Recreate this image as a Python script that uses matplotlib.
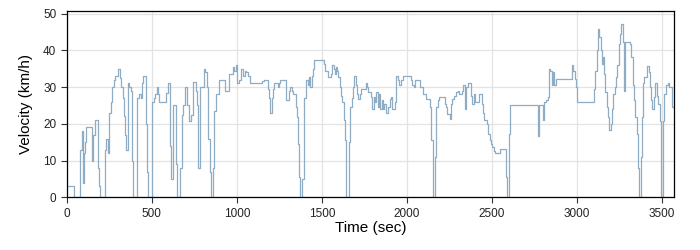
import matplotlib
matplotlib.use("Agg")
import matplotlib.pyplot as plt

# step points: (time in sec, velocity in km/h), held until the next point
time_s = [
    0, 40, 78, 88, 97, 103, 110, 116, 146, 155, 168, 184, 192, 198, 224, 232, 240,
    248, 258, 266, 276, 286, 300, 312, 320, 328, 334, 340, 346, 358, 368, 378, 386,
    392, 416, 426, 434, 442, 450, 466, 474, 480, 500, 512, 520, 528, 536, 544, 586,
    596, 606, 612, 622, 640, 646, 668, 676, 686, 694, 708, 716, 732, 740, 758, 764,
    770, 786, 806, 814, 822, 830, 840, 848, 860, 868, 876, 896, 928, 952, 976, 986,
    994, 1002, 1010, 1026, 1038, 1046, 1056, 1064, 1076, 1146, 1162, 1185, 1189,
    1197, 1205, 1213, 1221, 1240, 1248, 1256, 1287, 1291, 1307, 1315, 1322, 1330,
    1346, 1354, 1358, 1364, 1369, 1385, 1393, 1397, 1409, 1416, 1424, 1432, 1440,
    1448, 1456, 1510, 1518, 1538, 1553, 1561, 1569, 1577, 1585, 1589, 1596, 1604,
    1612, 1620, 1628, 1636, 1640, 1644, 1657, 1661, 1667, 1675, 1683, 1690, 1698,
    1706, 1714, 1722, 1730, 1757, 1765, 1773, 1788, 1796, 1804, 1812, 1820, 1827,
    1835, 1843, 1851, 1859, 1867, 1878, 1886, 1898, 1906, 1913, 1929, 1937, 1945,
    1956, 1964, 1976, 2023, 2031, 2043, 2050, 2074, 2094, 2113, 2133, 2141, 2144,
    2150, 2154, 2166, 2172, 2180, 2191, 2223, 2230, 2238, 2250, 2258, 2266, 2274,
    2289, 2297, 2305, 2324, 2332, 2340, 2348, 2356, 2377, 2385, 2393, 2400, 2424,
    2439, 2447, 2455, 2471, 2479, 2486, 2494, 2502, 2510, 2518, 2549, 2580, 2588,
    2600, 2606, 2768, 2775, 2799, 2807, 2818, 2826, 2834, 2842, 2850, 2857, 2865,
    2873, 2971, 2978, 2986, 2994, 3002, 3100, 3107, 3115, 3123, 3131, 3139, 3146,
    3154, 3158, 3166, 3174, 3182, 3189, 3197, 3205, 3213, 3221, 3229, 3236, 3244,
    3252, 3260, 3268, 3275, 3283, 3310, 3318, 3326, 3334, 3342, 3350, 3357, 3366,
    3378, 3382, 3389, 3396, 3412, 3420, 3428, 3436, 3443, 3451, 3459, 3467, 3475,
    3486, 3494, 3502, 3510, 3525, 3533, 3541, 3555, 3570,
]
velocity_kmh = [
    3, 0, 13, 18, 4, 12, 15, 19, 10, 17, 21, 8, 3, 0, 13, 16, 12,
    23, 26, 30, 32, 33, 35, 32.5, 30, 27, 22, 17, 13, 31, 30, 29, 10,
    0, 27, 28, 27, 31, 33, 20, 7, 0, 26, 27, 28, 30, 28, 26, 28.5,
    31, 14, 5, 25, 9, 0, 8, 22.5, 25, 30, 25, 20.7, 22.5, 31.5, 29, 25,
    8, 30, 35, 34, 30, 16, 7, 0, 8, 23.5, 28, 32, 29, 33.5, 35.5, 34.5,
    36, 31, 32, 35, 33, 34.5, 34, 33, 31, 31.7, 32, 29.5, 27,
    23, 27, 29.5, 31, 30, 31, 32, 30, 26.5, 29, 30, 29, 28,
    24.5, 21.8, 14.5, 5.5, 0, 5, 17, 27, 32, 30.5, 32.7, 30, 33,
    35, 37.3, 36.4, 34.5, 32.7, 33.6, 35.9, 35, 33.6, 35.5, 34.5, 32.7, 30,
    27.5, 26, 21, 15.5, 11, 0, 4.5, 15, 24.5, 27, 30, 33, 30.5,
    28, 26.8, 28, 29.5, 31, 30, 28.6, 27.3, 24, 27.3, 26, 28.6, 24.5,
    28, 24, 26.4, 24, 25.5, 23, 24.5, 26.8, 27.3, 24, 26, 33, 32,
    30.5, 32, 33, 32, 30.5, 30, 32, 30, 28.2, 26.8, 24.5, 21.8, 15.5,
    11, 0, 11, 24.5, 26.4, 27.3, 25.5, 24.5, 22.7, 21.4, 25.5, 26.8, 27.7,
    28.6, 29, 28, 29, 30.5, 24, 30, 31, 27.7, 25.5, 28, 25.9, 28,
    25.5, 23, 21, 20, 17.3, 15.5, 14.5, 13.6, 12.7, 12, 13.2, 5.5, 0,
    17.3, 25, 16.8, 25, 21, 26, 26.5, 27.3, 35, 34.5, 30.5, 34, 30.5,
    32.3, 35.9, 34.5, 32.3, 30, 26, 29.5, 34.5, 40, 45.7, 43.6, 40, 36.4,
    38.2, 33.6, 28.6, 24.5, 21.8, 18.2, 20, 24, 28.2, 30, 32.7, 35.9, 41.8,
    44.5, 47.3, 42.3, 29, 42.3, 41.8, 38.2, 30.5, 26.4, 21.8, 17.3, 8, 0,
    10.9, 21.8, 31, 32.7, 35.7, 34, 30, 26.4, 24, 27.3, 31, 27.7, 25.5,
    20.7, 0, 20.7, 28, 30.5, 31, 30, 24.5, 24.5,
]

x_ticks = [0, 500, 1000, 1500, 2000, 2500, 3000, 3500]
y_ticks = [0, 10, 20, 30, 40, 50]

plt.rcParams['font.family'] = ['Liberation Sans', 'DejaVu Sans']

fig = plt.figure(figsize=(7.0, 2.5), dpi=100)
ax = fig.add_axes([0.0953, 0.211, 0.8677, 0.746])

ax.step(time_s, velocity_kmh, where='post', color='#8eadc4', lw=0.9)

ax.set_xlim(0, 3570)
ax.set_ylim(0, 50.8)
ax.set_xticks(x_ticks)
ax.set_yticks(y_ticks)
ax.grid(True, color='#e3e3e3', lw=0.9)
ax.set_axisbelow(True)
for sp in ax.spines.values():
    sp.set_color('black')
    sp.set_linewidth(0.9)
ax.tick_params(axis='both', labelsize=8.5, length=4, width=0.8, color='#333333',
               labelcolor='#222222')
ax.set_xlabel('Time (sec)', fontsize=11, labelpad=1)
ax.set_ylabel('Velocity (km/h)', fontsize=11, labelpad=7)

fig.savefig('out.png', dpi=100)
